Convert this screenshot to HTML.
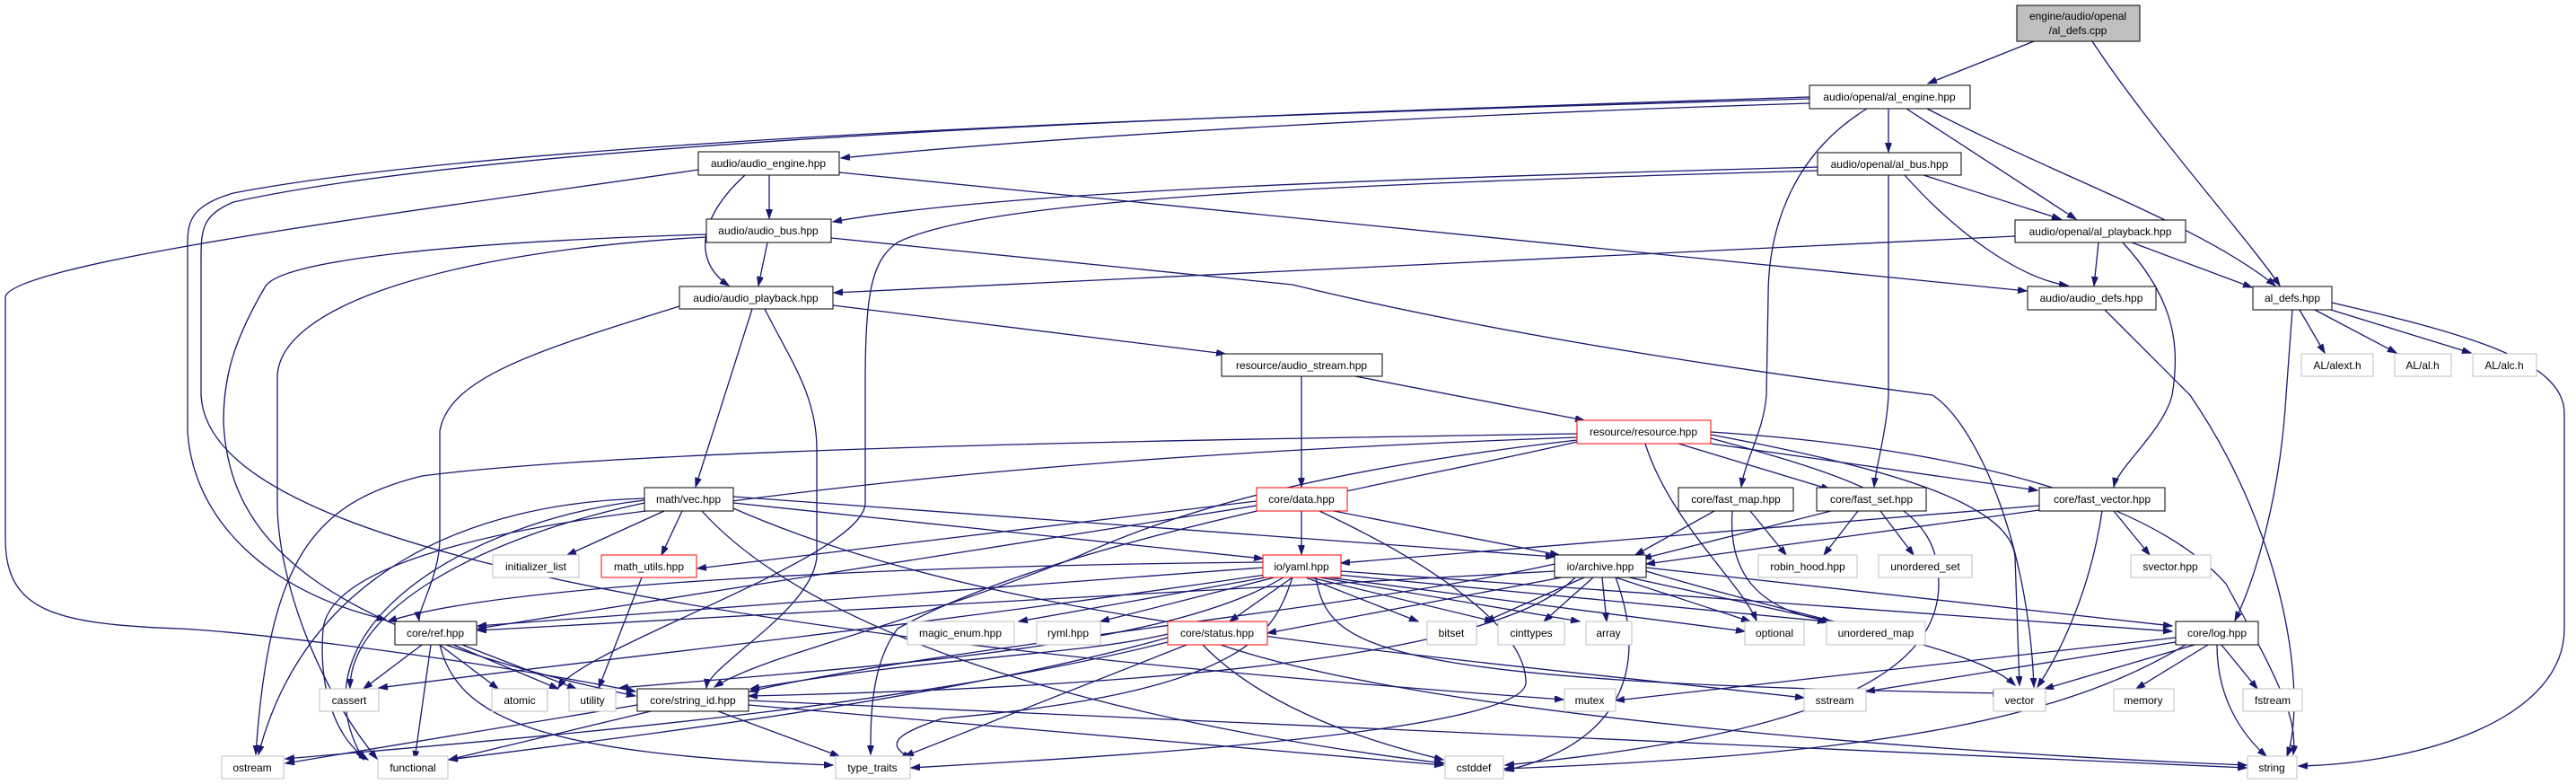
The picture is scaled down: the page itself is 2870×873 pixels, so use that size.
<!DOCTYPE html>
<html><head><meta charset="utf-8"><style>
html,body{margin:0;padding:0;background:#fff}
svg{display:block}
text{font-family:"Liberation Sans",sans-serif;font-size:12px;fill:#000;text-anchor:middle}
.e{fill:none;stroke:#191970;stroke-width:1.3;marker-end:url(#a)}
.n{fill:#fff;stroke:#000;stroke-width:1}
.g{fill:#fff;stroke:#bfbfbf;stroke-width:1}
.r{fill:#fff;stroke:#ff0000;stroke-width:1}
</style></head><body>
<svg width="2870" height="873" viewBox="0 0 2870 873" xmlns="http://www.w3.org/2000/svg">
<defs><marker id="a" markerWidth="11" markerHeight="8" refX="10" refY="3.5" orient="auto" markerUnits="userSpaceOnUse"><path d="M0,0 L10,3.5 L0,7z" fill="#191970" stroke="#191970"/></marker></defs>
<g>
<path class="e" d="M2266,46 L2148,93"/>
<path class="e" d="M2331,46 C2400,150 2500,260 2540,318"/>
<path class="e" d="M2016,115 C1600,128 1200,150 937,176"/>
<path class="e" d="M2016,110 C1500,125 600,150 260,215 C215,228 209,245 209,270 L209,480 C215,580 300,660 430,690"/>
<path class="e" d="M2016,108 C1500,125 600,150 260,225 C225,240 224,255 224,290 L224,440 C230,560 500,690 1742,779"/>
<path class="e" d="M778,189 C500,230 20,290 6,330 L6,600 C6,680 60,695 200,700 C300,705 560,740 708,770"/>
<path class="e" d="M857,195 L857,243"/>
<path class="e" d="M830,195 C780,240 770,290 812,318"/>
<path class="e" d="M935,192 L2258,324"/>
<path class="e" d="M2104,121 L2104,169"/>
<path class="e" d="M2124,121 L2313,244"/>
<path class="e" d="M2147,121 C2300,200 2450,250 2535,318"/>
<path class="e" d="M2080,121 C2000,170 1970,250 1970,330 L1968,440 C1965,480 1945,510 1940,542"/>
<path class="e" d="M2025,186 C1500,200 1100,215 928,247"/>
<path class="e" d="M2025,190 C1500,205 1100,220 1000,270 C970,290 964,330 964,430 L964,560 C964,620 650,720 622,766"/>
<path class="e" d="M2104,195 L2104,440 C2102,480 2090,520 2088,542"/>
<path class="e" d="M2143,195 L2296,244"/>
<path class="e" d="M2122,195 C2180,260 2250,310 2304,318"/>
<path class="e" d="M855,270 L845,318"/>
<path class="e" d="M787,261 C500,270 310,290 295,320 C260,380 249,420 249,470 C255,600 350,700 708,775"/>
<path class="e" d="M787,264 C500,280 310,340 309,420 L309,560 C309,640 350,760 420,845"/>
<path class="e" d="M926,265 L1440,317 C1700,380 2000,420 2153,440 C2200,470 2260,600 2266,765"/>
<path class="e" d="M928,340 L1365,394"/>
<path class="e" d="M838,344 L775,542"/>
<path class="e" d="M757,341 C600,390 500,420 490,480 L490,600 C490,640 465,680 467,691"/>
<path class="e" d="M852,344 C880,400 910,440 910,500 L910,620 C905,680 790,740 787,766"/>
<path class="e" d="M2245,263 L929,326"/>
<path class="e" d="M2338,270 L2333,318"/>
<path class="e" d="M2375,270 L2509,320"/>
<path class="e" d="M2365,270 C2420,330 2430,380 2420,440 C2410,480 2360,520 2355,542"/>
<path class="e" d="M2562,345 L2590,393"/>
<path class="e" d="M2579,345 L2670,393"/>
<path class="e" d="M2597,345 L2753,393"/>
<path class="e" d="M2598,337 C2740,370 2857,400 2857,460 L2857,700 C2857,800 2700,850 2561,853"/>
<path class="e" d="M2554,345 L2547,440 C2540,560 2510,650 2490,691"/>
<path class="e" d="M2345,345 L2440,440 C2550,600 2570,780 2548,842"/>
<path class="e" d="M1450,419 L1450,542"/>
<path class="e" d="M1510,419 L1765,468"/>
<path class="e" d="M1757,483 C1300,490 700,500 470,530 C350,560 300,620 285,840"/>
<path class="e" d="M1757,487 C1400,500 1100,520 800,560 C600,580 370,620 360,700 C355,760 370,820 410,846"/>
<path class="e" d="M1757,490 C1500,520 1330,560 1200,620 C1000,700 850,730 796,765"/>
<path class="e" d="M1757,492 C1550,540 1180,600 1000,700 C970,740 970,800 970,840"/>
<path class="e" d="M1870,494 L2039,545"/>
<path class="e" d="M1906,494 L2270,546"/>
<path class="e" d="M1833,494 C1860,580 1940,650 1957,691"/>
<path class="e" d="M1906,484 C2100,520 2240,560 2245,620 L2250,763"/>
<path class="e" d="M1906,481 C2200,500 2400,560 2480,650 C2540,760 2560,800 2555,840"/>
<path class="e" d="M1906,488 C2100,540 2160,570 2160,650 C2160,760 2000,820 1677,852"/>
<path class="e" d="M1450,569 L1450,617"/>
<path class="e" d="M1486,569 L1737,618"/>
<path class="e" d="M1470,569 C1600,630 1700,700 1700,760 C1700,800 1450,830 1100,850 L1015,855"/>
<path class="e" d="M1400,558 L777,633"/>
<path class="e" d="M1400,563 L532,700"/>
<path class="e" d="M740,569 L632,618"/>
<path class="e" d="M760,569 L737,618"/>
<path class="e" d="M718,555 C520,560 340,640 288,840"/>
<path class="e" d="M718,557 C520,580 320,700 405,846"/>
<path class="e" d="M718,560 C530,600 390,680 390,766"/>
<path class="e" d="M817,560 L1407,622"/>
<path class="e" d="M817,553 L1732,620"/>
<path class="e" d="M782,569 C900,700 1200,800 1609,850"/>
<path class="e" d="M817,566 C1100,690 1500,720 2010,777"/>
<path class="e" d="M715,643 L667,766"/>
<path class="e" d="M1407,632 L532,697"/>
<path class="e" d="M1407,626 C1000,630 560,650 432,692"/>
<path class="e" d="M1410,643 L1135,692"/>
<path class="e" d="M1420,643 L1226,692"/>
<path class="e" d="M1440,643 L1370,692"/>
<path class="e" d="M1455,643 L1580,692"/>
<path class="e" d="M1460,643 L1664,692"/>
<path class="e" d="M1470,643 L1760,692"/>
<path class="e" d="M1480,643 L1944,703"/>
<path class="e" d="M1490,640 L2035,692"/>
<path class="e" d="M1494,636 L2420,703"/>
<path class="e" d="M1466,643 C1480,720 1520,760 2230,772"/>
<path class="e" d="M1440,643 C1420,700 1400,770 1050,800 C990,820 990,830 1015,845"/>
<path class="e" d="M1430,643 C1300,720 1000,740 690,766"/>
<path class="e" d="M1410,640 C1000,700 700,730 422,766"/>
<path class="e" d="M2272,563 L1494,627"/>
<path class="e" d="M1732,628 C1500,680 1050,720 835,770"/>
<path class="e" d="M1765,643 L1655,692"/>
<path class="e" d="M1775,643 L1720,692"/>
<path class="e" d="M1785,643 L1790,692"/>
<path class="e" d="M1800,643 L1950,692"/>
<path class="e" d="M1815,643 L2040,692"/>
<path class="e" d="M1834,632 L2420,697"/>
<path class="e" d="M1834,636 C2050,700 2200,720 2245,763"/>
<path class="e" d="M1740,643 L1412,705"/>
<path class="e" d="M1732,636 L532,702"/>
<path class="e" d="M1800,643 C1840,750 1800,830 1677,858"/>
<path class="e" d="M1755,643 C1700,700 1500,760 834,775"/>
<path class="e" d="M1910,569 L1822,618"/>
<path class="e" d="M1950,569 L1990,618"/>
<path class="e" d="M1930,569 C1925,640 1960,680 2040,692"/>
<path class="e" d="M2040,569 L1830,622"/>
<path class="e" d="M2070,569 L2032,618"/>
<path class="e" d="M2095,569 L2132,618"/>
<path class="e" d="M2272,568 L1834,628"/>
<path class="e" d="M2355,569 L2395,618"/>
<path class="e" d="M2342,569 C2330,650 2300,720 2270,765"/>
<path class="e" d="M470,718 L405,767"/>
<path class="e" d="M490,718 L555,767"/>
<path class="e" d="M505,718 L622,767"/>
<path class="e" d="M515,718 L642,767"/>
<path class="e" d="M480,718 L462,846"/>
<path class="e" d="M490,718 C510,800 600,840 928,852"/>
<path class="e" d="M1301,706 C1200,730 1050,730 836,767"/>
<path class="e" d="M1301,710 C1050,780 700,820 500,846"/>
<path class="e" d="M1322,718 L1008,842"/>
<path class="e" d="M1340,718 C1400,780 1500,820 1608,846"/>
<path class="e" d="M1360,718 C1600,800 2200,840 2503,852"/>
<path class="e" d="M1301,715 C1000,790 600,820 318,845"/>
<path class="e" d="M710,785 L318,850"/>
<path class="e" d="M725,792 L500,846"/>
<path class="e" d="M800,792 L935,842"/>
<path class="e" d="M834,785 L1608,852"/>
<path class="e" d="M834,780 L2503,855"/>
<path class="e" d="M2424,710 L1800,780"/>
<path class="e" d="M2424,715 L2079,770"/>
<path class="e" d="M2445,718 L2278,767"/>
<path class="e" d="M2460,718 L2380,767"/>
<path class="e" d="M2475,718 L2515,767"/>
<path class="e" d="M2470,718 C2470,780 2500,820 2525,842"/>
<path class="e" d="M2435,718 C2300,800 2100,840 1676,856"/>
</g>
<g>
<rect x="2247" y="6" width="137" height="40" fill="#bfbfbf" stroke="#000"/>
<text x="2315" y="22">engine/audio/openal</text><text x="2315" y="38">/al_defs.cpp</text>
<rect class="n" x="2016" y="95" width="179" height="26"/><text x="2105" y="112">audio/openal/al_engine.hpp</text>
<rect class="n" x="778" y="169" width="157" height="26"/><text x="856" y="186">audio/audio_engine.hpp</text>
<rect class="n" x="2025" y="170" width="160" height="25"/><text x="2105" y="187">audio/openal/al_bus.hpp</text>
<rect class="n" x="787" y="244" width="139" height="26"/><text x="856" y="261">audio/audio_bus.hpp</text>
<rect class="n" x="2245" y="245" width="190" height="25"/><text x="2340" y="262">audio/openal/al_playback.hpp</text>
<rect class="n" x="757" y="319" width="171" height="25"/><text x="842" y="336">audio/audio_playback.hpp</text>
<rect class="n" x="2259" y="319" width="143" height="26"/><text x="2330" y="336">audio/audio_defs.hpp</text>
<rect class="n" x="2510" y="319" width="88" height="26"/><text x="2554" y="336">al_defs.hpp</text>
<rect class="n" x="1361" y="394" width="179" height="25"/><text x="1450" y="411">resource/audio_stream.hpp</text>
<rect class="g" x="2564" y="394" width="80" height="25"/><text x="2604" y="411">AL/alext.h</text>
<rect class="g" x="2668" y="394" width="63" height="25"/><text x="2699" y="411">AL/al.h</text>
<rect class="g" x="2755" y="394" width="71" height="25"/><text x="2790" y="411">AL/alc.h</text>
<rect class="r" x="1757" y="468" width="149" height="26"/><text x="1831" y="485">resource/resource.hpp</text>
<rect class="n" x="718" y="543" width="99" height="26"/><text x="767" y="560">math/vec.hpp</text>
<rect class="r" x="1400" y="543" width="101" height="26"/><text x="1450" y="560">core/data.hpp</text>
<rect class="n" x="1870" y="543" width="128" height="26"/><text x="1934" y="560">core/fast_map.hpp</text>
<rect class="n" x="2024" y="543" width="122" height="26"/><text x="2085" y="560">core/fast_set.hpp</text>
<rect class="n" x="2272" y="543" width="140" height="26"/><text x="2342" y="560">core/fast_vector.hpp</text>
<rect class="g" x="549" y="618" width="96" height="25"/><text x="597" y="635">initializer_list</text>
<rect class="r" x="670" y="618" width="106" height="25"/><text x="723" y="635">math_utils.hpp</text>
<rect class="r" x="1407" y="618" width="87" height="25"/><text x="1450" y="635">io/yaml.hpp</text>
<rect class="n" x="1732" y="618" width="102" height="25"/><text x="1783" y="635">io/archive.hpp</text>
<rect class="g" x="1959" y="618" width="110" height="25"/><text x="2014" y="635">robin_hood.hpp</text>
<rect class="g" x="2093" y="618" width="104" height="25"/><text x="2145" y="635">unordered_set</text>
<rect class="g" x="2374" y="618" width="89" height="25"/><text x="2418" y="635">svector.hpp</text>
<rect class="n" x="440" y="692" width="91" height="26"/><text x="485" y="709">core/ref.hpp</text>
<rect class="g" x="1011" y="692" width="119" height="26"/><text x="1070" y="709">magic_enum.hpp</text>
<rect class="g" x="1155" y="692" width="71" height="26"/><text x="1190" y="709">ryml.hpp</text>
<rect class="r" x="1301" y="692" width="111" height="26"/><text x="1356" y="709">core/status.hpp</text>
<rect class="g" x="1590" y="692" width="55" height="26"/><text x="1617" y="709">bitset</text>
<rect class="g" x="1669" y="692" width="74" height="26"/><text x="1706" y="709">cinttypes</text>
<rect class="g" x="1767" y="692" width="51" height="26"/><text x="1792" y="709">array</text>
<rect class="g" x="1944" y="692" width="66" height="26"/><text x="1977" y="709">optional</text>
<rect class="g" x="2035" y="692" width="110" height="26"/><text x="2090" y="709">unordered_map</text>
<rect class="n" x="2424" y="692" width="92" height="26"/><text x="2470" y="709">core/log.hpp</text>
<rect class="g" x="356" y="767" width="66" height="25"/><text x="389" y="784">cassert</text>
<rect class="g" x="548" y="767" width="62" height="25"/><text x="579" y="784">atomic</text>
<rect class="g" x="634" y="767" width="52" height="25"/><text x="660" y="784">utility</text>
<rect class="n" x="710" y="767" width="124" height="25"/><text x="772" y="784">core/string_id.hpp</text>
<rect class="g" x="1743" y="767" width="57" height="25"/><text x="1771" y="784">mutex</text>
<rect class="g" x="2010" y="767" width="69" height="25"/><text x="2044" y="784">sstream</text>
<rect class="g" x="2221" y="767" width="58" height="25"/><text x="2250" y="784">vector</text>
<rect class="g" x="2355" y="767" width="67" height="25"/><text x="2388" y="784">memory</text>
<rect class="g" x="2499" y="767" width="66" height="25"/><text x="2532" y="784">fstream</text>
<rect class="g" x="247" y="842" width="69" height="25"/><text x="281" y="859">ostream</text>
<rect class="g" x="421" y="842" width="78" height="25"/><text x="460" y="859">functional</text>
<rect class="g" x="931" y="842" width="83" height="25"/><text x="972" y="859">type_traits</text>
<rect class="g" x="1610" y="842" width="65" height="25"/><text x="1642" y="859">cstddef</text>
<rect class="g" x="2504" y="842" width="55" height="25"/><text x="2531" y="859">string</text>
</g>
</svg>
</body></html>
